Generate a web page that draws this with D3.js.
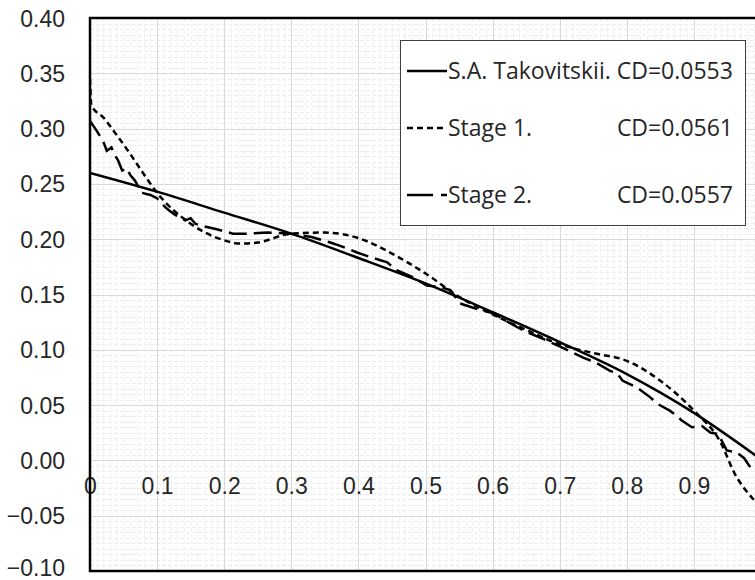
<!DOCTYPE html>
<html>
<head>
<meta charset="utf-8">
<script src="https://cdn.jsdelivr.net/npm/d3@7"></script>
<style>
  body { margin: 0; background: #fff; }
  svg { display: block; font-family: "Open Sans", "Noto Sans", sans-serif; }
</style>
</head>
<body>
<svg id="chart"></svg>
<script>
// values
var takovitskiiX = [0, 0.1, 0.2, 0.3, 0.4, 0.5, 0.6, 0.7, 0.8, 0.9, 1.0];
var takovitskiiY = [0.260, 0.243, 0.224, 0.205, 0.183, 0.160, 0.134, 0.107, 0.078, 0.043, 0.001];

var stage1X = [0, 0.002, 0.02, 0.04, 0.06, 0.08, 0.1, 0.15, 0.2, 0.225, 0.25, 0.3, 0.35, 0.4, 0.45, 0.5, 0.55, 0.6, 0.65, 0.7, 0.75, 0.8, 0.85, 0.9, 0.94, 0.96, 0.99];
var stage1Y = [0.345, 0.321, 0.310, 0.294, 0.277, 0.259, 0.242, 0.214, 0.199, 0.196, 0.197, 0.205, 0.206, 0.201, 0.187, 0.169, 0.148, 0.132, 0.118, 0.105, 0.097, 0.090, 0.072, 0.045, 0.016, -0.011, -0.036];

var stage2X = [0, 0.010, 0.020, 0.025, 0.032, 0.037, 0.042, 0.048, 0.055, 0.060, 0.067, 0.077, 0.090, 0.100, 0.112, 0.118, 0.127, 0.142, 0.150, 0.157, 0.167, 0.189, 0.213, 0.234, 0.264, 0.300, 0.330, 0.358, 0.373, 0.398, 0.417, 0.443, 0.457, 0.480, 0.502, 0.520, 0.537, 0.551, 0.571, 0.601, 0.626, 0.651, 0.675, 0.700, 0.735, 0.755, 0.775, 0.785, 0.794, 0.815, 0.835, 0.846, 0.864, 0.875, 0.882, 0.897, 0.912, 0.925, 0.936, 0.949, 0.964, 0.975, 0.987];
var stage2Y = [0.307, 0.298, 0.288, 0.280, 0.283, 0.276, 0.271, 0.262, 0.264, 0.258, 0.253, 0.242, 0.240, 0.237, 0.229, 0.226, 0.222, 0.217, 0.219, 0.214, 0.212, 0.209, 0.205, 0.205, 0.206, 0.205, 0.202, 0.197, 0.194, 0.188, 0.184, 0.179, 0.172, 0.166, 0.158, 0.157, 0.154, 0.142, 0.138, 0.133, 0.124, 0.116, 0.110, 0.103, 0.093, 0.088, 0.081, 0.079, 0.072, 0.066, 0.057, 0.051, 0.045, 0.040, 0.036, 0.030, 0.031, 0.025, 0.024, 0.009, 0.007, 0.002, -0.009];

var xTicks = [0, 0.1, 0.2, 0.3, 0.4, 0.5, 0.6, 0.7, 0.8, 0.9];
var yTicks = [-0.10, -0.05, 0.00, 0.05, 0.10, 0.15, 0.20, 0.25, 0.30, 0.35, 0.40];

var legendNames = ["S.A. Takovitskii. CD=0.0553", "Stage 1.", "Stage 2."];
var legendCD = [null, "CD=0.0561", "CD=0.0557"];

var width = 755, height = 580;
var margin = { top: 18, left: 90, bottom: 9 };
var plotRight = 761;
var fontSize = 23;

var svg = d3.select("#chart").attr("width", width).attr("height", height);

var x = d3.scaleLinear().domain([0, 1]).range([margin.left, plotRight]);
var y = d3.scaleLinear().domain([-0.1, 0.4]).range([height - margin.bottom, margin.top]);

svg.append("defs").append("clipPath").attr("id", "plot-clip")
    .append("rect")
    .attr("x", x(0)).attr("y", y(0.4))
    .attr("width", x(1) - x(0)).attr("height", y(-0.1) - y(0.4));

var grid = svg.append("g");

// minor grid
grid.selectAll(".minor-h")
    .data(d3.range(-0.1, 0.4001, 0.005))
    .join("line")
    .attr("x1", x(0)).attr("x2", x(1))
    .attr("y1", d => Math.round(y(d)) + 0.5).attr("y2", d => Math.round(y(d)) + 0.5)
    .attr("stroke", "#ececec")
    .attr("stroke-dasharray", "4,2");

grid.selectAll(".minor-v")
    .data(d3.range(0, 1.0001, 0.01))
    .join("line")
    .attr("y1", y(0.4)).attr("y2", y(-0.1))
    .attr("x1", d => Math.round(x(d)) + 0.5).attr("x2", d => Math.round(x(d)) + 0.5)
    .attr("stroke", "#f2f2f2")
    .attr("stroke-dasharray", "4,2");

// major grid
grid.selectAll(".major-h")
    .data(yTicks)
    .join("line")
    .attr("x1", x(0)).attr("x2", x(1))
    .attr("y1", d => Math.round(y(d)) + 0.5).attr("y2", d => Math.round(y(d)) + 0.5)
    .attr("stroke", "#d9d9d9");

grid.selectAll(".major-v")
    .data(d3.range(0, 1.0001, 0.1))
    .join("line")
    .attr("y1", y(0.4)).attr("y2", y(-0.1))
    .attr("x1", d => Math.round(x(d)) + 0.5).attr("x2", d => Math.round(x(d)) + 0.5)
    .attr("stroke", "#d9d9d9");

// x labels sit on the y=0 line
svg.append("g")
    .attr("transform", `translate(0,${y(0)})`)
    .call(d3.axisBottom(x).tickValues(xTicks).tickFormat(d3.format("")).tickSize(0).tickPadding(17))
    .call(g => g.select(".domain").remove())
    .call(g => g.selectAll("text").attr("font-size", fontSize).attr("fill", "#262626").attr("font-family", null));

svg.append("g")
    .attr("transform", `translate(${x(0)},0)`)
    .call(d3.axisLeft(y).tickValues(yTicks).tickFormat(d3.format(".2f")).tickSize(0))
    .call(g => g.select(".domain").remove())
    .call(g => g.selectAll("text")
        .attr("x", -25)
        .attr("dy", d => d === -0.1 ? "0.2em" : "0.35em")
        .attr("text-anchor", "end")
        .attr("font-size", fontSize).attr("fill", "#262626").attr("font-family", null));

// curves
var series = [
    { xs: takovitskiiX, ys: takovitskiiY, dash: null, curve: d3.curveMonotoneX },
    { xs: stage1X, ys: stage1Y, dash: "6,4", curve: d3.curveMonotoneX },
    { xs: stage2X, ys: stage2Y, dash: "18,7", curve: d3.curveLinear }
];

var curves = svg.append("g").attr("clip-path", "url(#plot-clip)");
series.forEach(function (s) {
    var pts = s.xs.map((v, i) => [v, s.ys[i]]);
    curves.append("path")
        .attr("d", d3.line().x(d => x(d[0])).y(d => y(d[1])).curve(s.curve)(pts))
        .attr("fill", "none")
        .attr("stroke", "#000")
        .attr("stroke-width", 2.5)
        .attr("stroke-dasharray", s.dash);
});

// plot frame
svg.append("rect")
    .attr("x", x(0)).attr("y", y(0.4))
    .attr("width", x(1) - x(0)).attr("height", y(-0.1) - y(0.4))
    .attr("fill", "none")
    .attr("stroke", "#000")
    .attr("stroke-width", 2.5);

// legend
var legend = svg.append("g");
legend.append("rect")
    .attr("x", 400.5).attr("y", 40.5)
    .attr("width", 345).attr("height", 185)
    .attr("fill", "#fff")
    .attr("stroke", "#404040");

var rowY = [71, 128, 195];
var legendDash = [null, "6,4", "26,8"];
legendNames.forEach(function (name, i) {
    legend.append("line")
        .attr("x1", 407).attr("x2", 447)
        .attr("y1", rowY[i]).attr("y2", rowY[i])
        .attr("stroke", "#000")
        .attr("stroke-width", 2.5)
        .attr("stroke-dasharray", legendDash[i]);
    legend.append("text")
        .attr("x", 448).attr("y", rowY[i])
        .attr("dy", "0.35em")
        .attr("font-size", fontSize)
        .attr("fill", "#262626")
        .text(name);
    if (legendCD[i]) {
        legend.append("text")
            .attr("x", 733).attr("y", rowY[i])
            .attr("dy", "0.35em")
            .attr("text-anchor", "end")
            .attr("font-size", fontSize)
            .attr("fill", "#262626")
            .text(legendCD[i]);
    }
});
</script>
</body>
</html>
